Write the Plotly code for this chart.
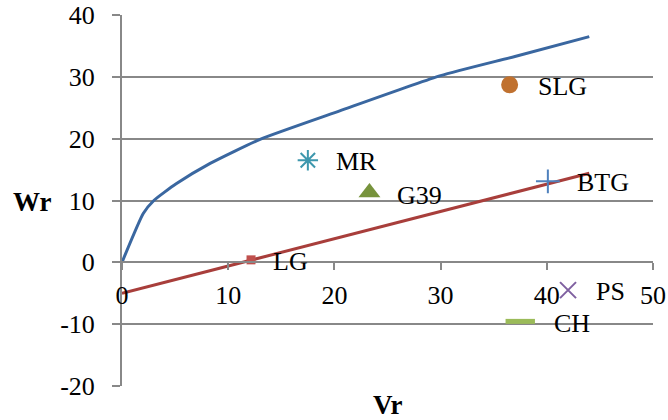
import plotly.graph_objects as go

# Curve (blue) and line (red)
curve_x = [0, 2, 3, 5.1, 8.3, 13, 20.5, 30, 37, 44]
curve_y = [0, 7.9, 10.0, 12.7, 16.0, 19.9, 24.5, 30.2, 33.3, 36.5]
line_x = [0, 44]
line_y = [-5.0, 14.4]

# Labelled points
pt_names = ["SLG", "MR", "G39", "BTG", "LG", "PS", "CH"]
pt_x = [36.5, 17.5, 23.3, 40.1, 12.15, 42.0, 37.5]
pt_y = [28.7, 16.5, 11.3, 13.1, 0.4, -4.5, -9.55]
pt_symbols = ["circle", "asterisk-open", "triangle-up", "cross-thin-open",
              "square", "x-thin-open", "line-ew-open"]
pt_colors = ["#C0712F", "#3D97AD", "#77933C", "#4F81BD", "#C0504D", "#7F60A0", "#9BBB59"]
pt_sizes = [17, 17, 19, 17, 9, 16, 21]
pt_lw = [0, 2, 0, 2, 0, 2, 5]
label_shift = [26, 26, 26, 27, 20, 26, 32]
label_dy = [-2, -1, -3, -1, -2, -1, -2]

x_ticks = [0, 10, 20, 30, 40, 50]
y_ticks = [-20, -10, 0, 10, 20, 30, 40]
y_ticktext = ["-20", "-10", "0", "10", "20", "30", "40"]

FONT = "Liberation Serif"
GRID = "#888888"

fig = go.Figure()
fig.add_trace(go.Scatter(x=curve_x, y=curve_y, mode="lines",
                         line=dict(color="#3A67A0", width=3, shape="spline", smoothing=0.5),
                         hoverinfo="skip"))
fig.add_trace(go.Scatter(x=line_x, y=line_y, mode="lines",
                         line=dict(color="#A83E3B", width=3), hoverinfo="skip"))
for i, name in enumerate(pt_names):
    fig.add_trace(go.Scatter(
        x=[pt_x[i]], y=[pt_y[i]], mode="markers", name=name,
        marker=dict(symbol=pt_symbols[i], size=pt_sizes[i], color=pt_colors[i],
                    line=dict(color=pt_colors[i], width=pt_lw[i]))))
    fig.add_annotation(x=pt_x[i], y=pt_y[i], text=name, showarrow=False,
                       xanchor="left", yanchor="middle", xshift=label_shift[i],
                       yshift=label_dy[i],
                       font=dict(family=FONT, size=26, color="black"))

fig.add_annotation(text="<b>Wr</b>", xref="paper", yref="paper", x=-0.169, y=0.495,
                   xanchor="center", yanchor="middle", showarrow=False,
                   font=dict(family=FONT, size=27, color="black"))
fig.add_annotation(text="<b>Vr</b>", xref="paper", yref="paper", x=0.5, y=-0.05,
                   xanchor="center", yanchor="middle", showarrow=False,
                   font=dict(family=FONT, size=27, color="black"))

fig.update_layout(
    width=668, height=420,
    margin=dict(l=122, r=15, t=15, b=34),
    paper_bgcolor="white", plot_bgcolor="white",
    showlegend=False,
    font=dict(family=FONT, size=26, color="black"),
    xaxis=dict(range=[0, 50], tickvals=x_ticks, showgrid=False, zeroline=False,
               showline=True, linecolor=GRID, linewidth=2,
               ticks="outside", ticklen=7, tickwidth=2, tickcolor=GRID,
               anchor="free", position=20/60, ticklabelstandoff=2, automargin=False,
               tickfont=dict(family=FONT, size=26, color="black")),
    yaxis=dict(range=[-20, 40], tickvals=y_ticks, ticktext=y_ticktext,
               showgrid=True, gridcolor=GRID, automargin=False,
               gridwidth=1.5, zeroline=False, showline=True, linecolor=GRID,
               linewidth=2, ticks="outside", ticklen=8, tickwidth=1.5, tickcolor=GRID,
               ticklabelstandoff=12,
               tickfont=dict(family=FONT, size=26, color="black")),
)

fig.write_html("out.html", config={"displayModeBar": False},
               post_script="document.body.style.margin='0';")
